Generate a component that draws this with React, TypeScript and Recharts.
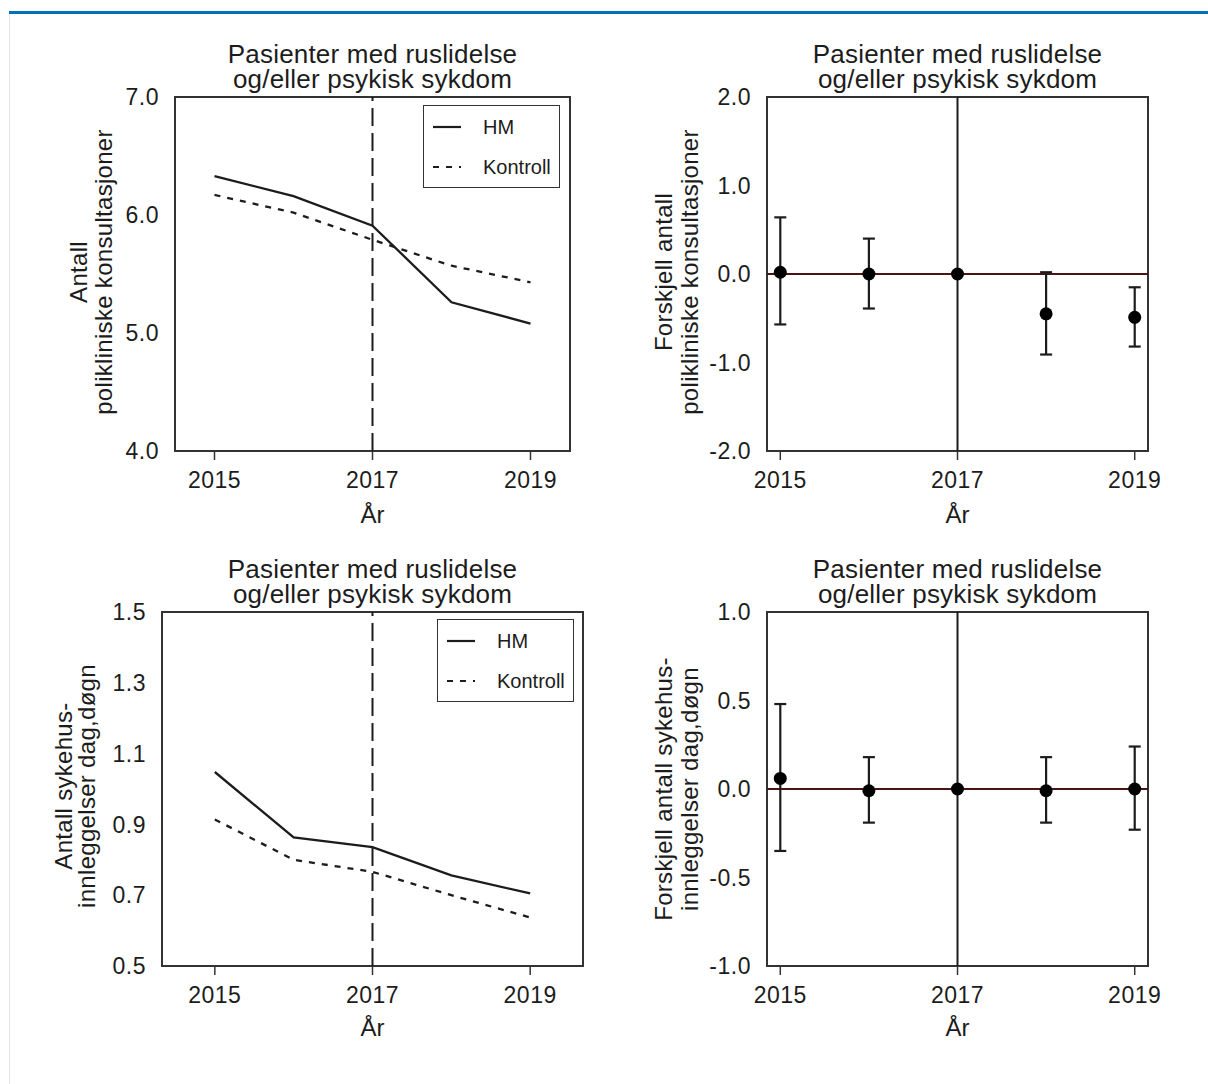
import React from 'react'
import { LineChart, Line, ScatterChart, Scatter, ErrorBar, XAxis, YAxis, ReferenceLine, ReferenceArea } from 'recharts'

const years = [2015, 2016, 2017, 2018, 2019]
const yearTicks = [2015, 2017, 2019]

// polikliniske konsultasjoner
const polHM = [6.33, 6.16, 5.91, 5.26, 5.08]
const polKontroll = [6.17, 6.02, 5.79, 5.57, 5.43]
const polTicks = [4, 5, 6, 7]

// forskjell polikliniske, estimat og konfidensintervall
const polDiff = [0.02, 0.0, 0.0, -0.45, -0.49]
const polDiffLow = [-0.57, -0.39, 0.0, -0.91, -0.82]
const polDiffHigh = [0.64, 0.4, 0.0, 0.02, -0.15]
const polDiffTicks = [-2, -1, 0, 1, 2]

// sykehusinnleggelser dag/døgn
const innHM = [1.048, 0.863, 0.836, 0.756, 0.705]
const innKontroll = [0.914, 0.8, 0.766, 0.7, 0.637]
const innTicks = [0.5, 0.7, 0.9, 1.1, 1.3, 1.5]

const innDiff = [0.06, -0.01, 0.0, -0.01, 0.0]
const innDiffLow = [-0.35, -0.19, 0.0, -0.19, -0.23]
const innDiffHigh = [0.48, 0.18, 0.0, 0.18, 0.24]
const innDiffTicks = [-1, -0.5, 0, 0.5, 1]

const FONT = '"Liberation Sans", Arial, Helvetica, sans-serif'
const INK = '#1c1c1c'
const FRAME = '#333'
const PAD_L = 100
const PAD_T = 20
const PAD_R = 20
const PAD_B = 60

type Box = { left: number; top: number; width: number; height: number }

const trendRows = (hm: number[], kontroll: number[]) =>
  years.map((year, i) => ({ year, hm: hm[i], kontroll: kontroll[i] }))

const diffRows = (est: number[], low: number[], high: number[]) =>
  years.map((year, i) => ({ year, est: est[i], err: [est[i] - low[i], high[i] - est[i]] }))

const xTick = { fontSize: 23, fill: INK, fontFamily: FONT, letterSpacing: 0.5 }
const yTick = { fontSize: 23, fill: INK, fontFamily: FONT, letterSpacing: 0.5 }

function Legend({ left, top }: { left: number; top: number }) {
  const rows = [
    { name: 'HM', dash: undefined },
    { name: 'Kontroll', dash: '6 7' },
  ]
  return (
    <div style={{ position: 'absolute', left, top, width: 137, height: 83, border: `1.5px solid ${FRAME}`, background: '#fff', boxSizing: 'border-box' }}>
      {rows.map((r, i) => (
        <div key={r.name} style={{ position: 'absolute', left: 0, top: 21 + i * 40 - 12, height: 24, width: '100%' }}>
          <svg width={40} height={24} style={{ position: 'absolute', left: 9, top: 0 }}>
            <line x1={0} x2={28} y1={12} y2={12} stroke={INK} strokeWidth={2.2} strokeDasharray={r.dash} />
          </svg>
          <span style={{ position: 'absolute', left: 59, top: 0, lineHeight: '24px', fontSize: 20, fontFamily: FONT, color: INK }}>{r.name}</span>
        </div>
      ))}
    </div>
  )
}

function TrendPanel({ box, xDomain, yDomain, yTicks, hm, kontroll }: {
  box: Box; xDomain: [number, number]; yDomain: [number, number]; yTicks: number[]; hm: number[]; kontroll: number[]
}) {
  const data = trendRows(hm, kontroll)
  return (
    <div style={{ position: 'absolute', left: box.left - PAD_L, top: box.top - PAD_T }}>
      <LineChart width={box.width + PAD_L + PAD_R} height={box.height + PAD_T + PAD_B} data={data}
        margin={{ top: PAD_T, right: PAD_R, bottom: 0, left: 0 }}>
        <XAxis type="number" dataKey="year" domain={xDomain} ticks={yearTicks} interval={0} allowDataOverflow
          axisLine={false} tickLine={{ stroke: FRAME, strokeWidth: 1.5 }} tickSize={9} tickMargin={12} height={PAD_B} tick={xTick} />
        <YAxis type="number" domain={yDomain} ticks={yTicks} interval={0} allowDataOverflow width={PAD_L}
          axisLine={false} tickLine={false} tickSize={6} tickMargin={10} tick={yTick} tickFormatter={(v: number) => v.toFixed(1)} />
        <ReferenceArea x1={xDomain[0]} x2={xDomain[1]} y1={yDomain[0]} y2={yDomain[1]} fill="none" stroke={FRAME} strokeWidth={2} />
        <ReferenceLine x={2017} stroke={INK} strokeWidth={2} strokeDasharray="18 7" />
        <Line type="linear" dataKey="hm" stroke={INK} strokeWidth={2.3} dot={false} isAnimationActive={false} />
        <Line type="linear" dataKey="kontroll" stroke={INK} strokeWidth={2.3} strokeDasharray="6 7" dot={false} isAnimationActive={false} />
      </LineChart>
    </div>
  )
}

function DiffPanel({ box, xDomain, yDomain, yTicks, est, low, high }: {
  box: Box; xDomain: [number, number]; yDomain: [number, number]; yTicks: number[]; est: number[]; low: number[]; high: number[]
}) {
  const data = diffRows(est, low, high)
  return (
    <div style={{ position: 'absolute', left: box.left - PAD_L, top: box.top - PAD_T }}>
      <ScatterChart width={box.width + PAD_L + PAD_R} height={box.height + PAD_T + PAD_B}
        margin={{ top: PAD_T, right: PAD_R, bottom: 0, left: 0 }}>
        <XAxis type="number" dataKey="year" domain={xDomain} ticks={yearTicks} interval={0} allowDataOverflow
          axisLine={false} tickLine={{ stroke: FRAME, strokeWidth: 1.5 }} tickSize={9} tickMargin={12} height={PAD_B} tick={xTick} />
        <YAxis type="number" dataKey="est" domain={yDomain} ticks={yTicks} interval={0} allowDataOverflow width={PAD_L}
          axisLine={false} tickLine={false} tickSize={6} tickMargin={10} tick={yTick} tickFormatter={(v: number) => v.toFixed(1)} />
        <ReferenceArea x1={xDomain[0]} x2={xDomain[1]} y1={yDomain[0]} y2={yDomain[1]} fill="none" stroke={FRAME} strokeWidth={2} />
        <ReferenceLine x={2017} stroke={INK} strokeWidth={2} />
        <ReferenceLine y={0} stroke="#4a1414" strokeWidth={2} />
        <Scatter data={data} isAnimationActive={false}
          shape={(p: any) => <circle cx={p.cx} cy={p.cy} r={6.5} fill="#000" />}>
          <ErrorBar dataKey="err" direction="y" width={6} stroke={INK} strokeWidth={2.2} isAnimationActive={false} />
        </Scatter>
      </ScatterChart>
    </div>
  )
}

function Texts() {
  const t = { fontFamily: FONT, fill: INK }
  const title = (cx: number, top: number) => (
    <g key={`t${cx}${top}`}>
      <text x={cx} y={top - 34} textAnchor="middle" fontSize={26} letterSpacing={0.2} style={t}>Pasienter med ruslidelse</text>
      <text x={cx} y={top - 9} textAnchor="middle" fontSize={26} letterSpacing={0.2} style={t}>og/eller psykisk sykdom</text>
    </g>
  )
  const ylab = (x1: number, x2: number, cy: number, l1: string, l2: string) => (
    <g key={l1 + cy}>
      <text transform={`translate(${x1},${cy}) rotate(-90)`} textAnchor="middle" fontSize={24} letterSpacing={0.3} style={t}>{l1}</text>
      <text transform={`translate(${x2},${cy}) rotate(-90)`} textAnchor="middle" fontSize={24} letterSpacing={0.3} style={t}>{l2}</text>
    </g>
  )
  const xlab = (cx: number, y: number) => (
    <text key={`x${cx}${y}`} x={cx} y={y} textAnchor="middle" fontSize={24} style={t}>År</text>
  )
  return (
    <svg width={1208} height={1084} style={{ position: 'absolute', left: 0, top: 0, pointerEvents: 'none' }}>
      {title(372.5, 97)}
      {title(957.5, 97)}
      {title(372.5, 612)}
      {title(957.5, 612)}
      {ylab(86.7, 111.7, 272, 'Antall', 'polikliniske konsultasjoner')}
      {ylab(671.7, 698.3, 272, 'Forskjell antall', 'polikliniske konsultasjoner')}
      {ylab(72.3, 95, 786, 'Antall sykehus-', 'innleggelser dag,døgn')}
      {ylab(671.7, 698.3, 789, 'Forskjell antall sykehus-', 'innleggelser dag,døgn')}
      {xlab(372.5, 523)}
      {xlab(957.5, 523)}
      {xlab(372.5, 1036)}
      {xlab(957.5, 1036)}
    </svg>
  )
}

export default function App() {
  return (
    <div style={{ position: 'absolute', left: 0, top: 0, width: 1208, height: 1084, background: '#fff', overflow: 'hidden', fontFamily: FONT }}>
      <div style={{ position: 'absolute', left: 9, top: 11, width: 1199, height: 3, background: '#0072bb' }} />
      <div style={{ position: 'absolute', left: 9, top: 14, width: 1, height: 1070, background: '#e6e6e6' }} />

      <TrendPanel box={{ left: 175, top: 97, width: 395, height: 354 }} xDomain={[2014.5, 2019.5]} yDomain={[4, 7]}
        yTicks={polTicks} hm={polHM} kontroll={polKontroll} />
      <DiffPanel box={{ left: 767, top: 97, width: 381, height: 354 }} xDomain={[2014.85, 2019.15]} yDomain={[-2, 2]}
        yTicks={polDiffTicks} est={polDiff} low={polDiffLow} high={polDiffHigh} />
      <TrendPanel box={{ left: 162, top: 612, width: 421, height: 354 }} xDomain={[2014.33, 2019.67]} yDomain={[0.5, 1.5]}
        yTicks={innTicks} hm={innHM} kontroll={innKontroll} />
      <DiffPanel box={{ left: 767, top: 612, width: 381, height: 354 }} xDomain={[2014.85, 2019.15]} yDomain={[-1, 1]}
        yTicks={innDiffTicks} est={innDiff} low={innDiffLow} high={innDiffHigh} />

      <Legend left={423} top={105} />
      <Legend left={437} top={619} />

      <Texts />
    </div>
  )
}
